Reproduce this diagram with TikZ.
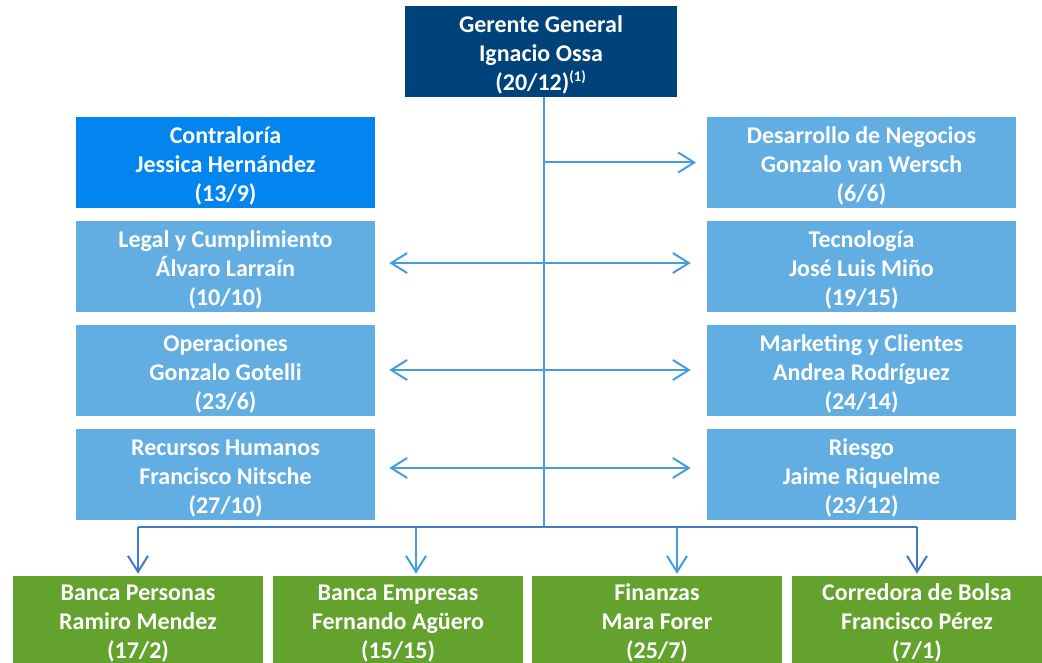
\documentclass[tikz,border=0pt]{standalone}
\usepackage{fontspec}
\setmainfont{Carlito}
\usetikzlibrary{arrows.meta}
\definecolor{gerente}{RGB}{0,66,122}
\definecolor{contra}{RGB}{3,133,240}
\definecolor{area}{RGB}{98,174,226}
\definecolor{banca}{RGB}{100,162,46}
\definecolor{linea}{RGB}{68,158,220}
\definecolor{lineaosc}{RGB}{66,122,192}
\tikzset{
    caja/.style={minimum height=68.25pt,inner sep=0pt,align=center,text=white,
        font=\fontsize{18}{21.75}\selectfont\bfseries,
        execute at begin node=\rule{0pt}{61pt}},
    izq/.style={caja,fill=area,minimum width=224.25pt},
    der/.style={caja,fill=area,minimum width=231.75pt},
    abajo/.style={caja,fill=banca,minimum width=187.5pt,minimum height=65.25pt},
    flecha/.style={line width=1.5pt,-{Straight Barb[length=12pt,width=15pt]}},
    doble/.style={line width=1.5pt,{Straight Barb[length=12pt,width=15pt]}-{Straight Barb[length=12pt,width=15pt]}}
}
\begin{document}
\begin{tikzpicture}[x=0.75pt,y=-0.75pt]
        \useasboundingbox (0,0) rectangle (1042,663);
        %画总经理
        \node[caja,fill=gerente,minimum width=204pt] (gg) at (541,51.5)
            {Gerente General\\Ignacio Ossa\\(20/12)\textsuperscript{\fontsize{11}{12}\selectfont(1)}};
        %画左边各部门
        \node[izq,fill=contra] (ct) at (225.5,162.5) {Contraloría\\Jessica Hernández\\(13/9)};
        \node[izq] (lg) at (225.5,266.5) {Legal y Cumplimiento\\Álvaro Larraín\\(10/10)};
        \node[izq] (op) at (225.5,370.5) {Operaciones\\Gonzalo Gotelli\\(23/6)};
        \node[izq] (rh) at (225.5,474.5) {Recursos Humanos\\Francisco Nitsche\\(27/10)};
        %画右边各部门
        \node[der] (dn) at (861.5,162.5) {Desarrollo de Negocios\\Gonzalo van Wersch\\(6/6)};
        \node[der] (tc) at (861.5,266.5) {Tecnología\\José Luis Miño\\(19/15)};
        \node[der] (mk) at (861.5,370.5) {Marketing y Clientes\\Andrea Rodríguez\\(24/14)};
        \node[der] (rq) at (861.5,474.5) {Riesgo\\Jaime Riquelme\\(23/12)};
        %画下面各业务
        \node[abajo] (bp) at (138,619.5) {Banca Personas\\Ramiro Mendez\\(17/2)};
        \node[abajo] (be) at (398,619.5) {Banca Empresas\\Fernando Agüero\\(15/15)};
        \node[abajo] (fi) at (657,619.5) {Finanzas\\Mara Forer\\(25/7)};
        \node[abajo] (cb) at (917,619.5) {Corredora de Bolsa\\Francisco Pérez\\(7/1)};
        %画主干线
        \coordinate (eje) at (544,97);
        \coordinate (hub) at (544,527);
        \draw[linea,line width=1.5pt] (gg.south -| eje) -- (hub);
        \draw[flecha,linea,shorten >=8pt] (eje |- dn.west) -- (dn.west);
        %画双向箭头
        \foreach \a/\b/\s in {lg/tc/2.6,op/mk/0.4,rh/rq/4.9}
            \draw[doble,linea,shorten <=10.5pt,shorten >=12pt]
                ([yshift=\s pt]\a.east) -- ([yshift=\s pt]\b.west);
        %画下面的横线和箭头
        \coordinate (b1) at (138,527);
        \coordinate (b2) at (416,527);
        \coordinate (b3) at (677,527);
        \coordinate (b4) at (917,527);
        \draw[lineaosc,line width=1.5pt] (b1) -- (b4);
        \foreach \c/\n/\col in {b1/bp/lineaosc,b2/be/linea,b3/fi/linea,b4/cb/lineaosc}
            \draw[flecha,\col,shorten >=1.5pt] (\c) -- (\c |- \n.north);
        \end{tikzpicture}
\end{document}
